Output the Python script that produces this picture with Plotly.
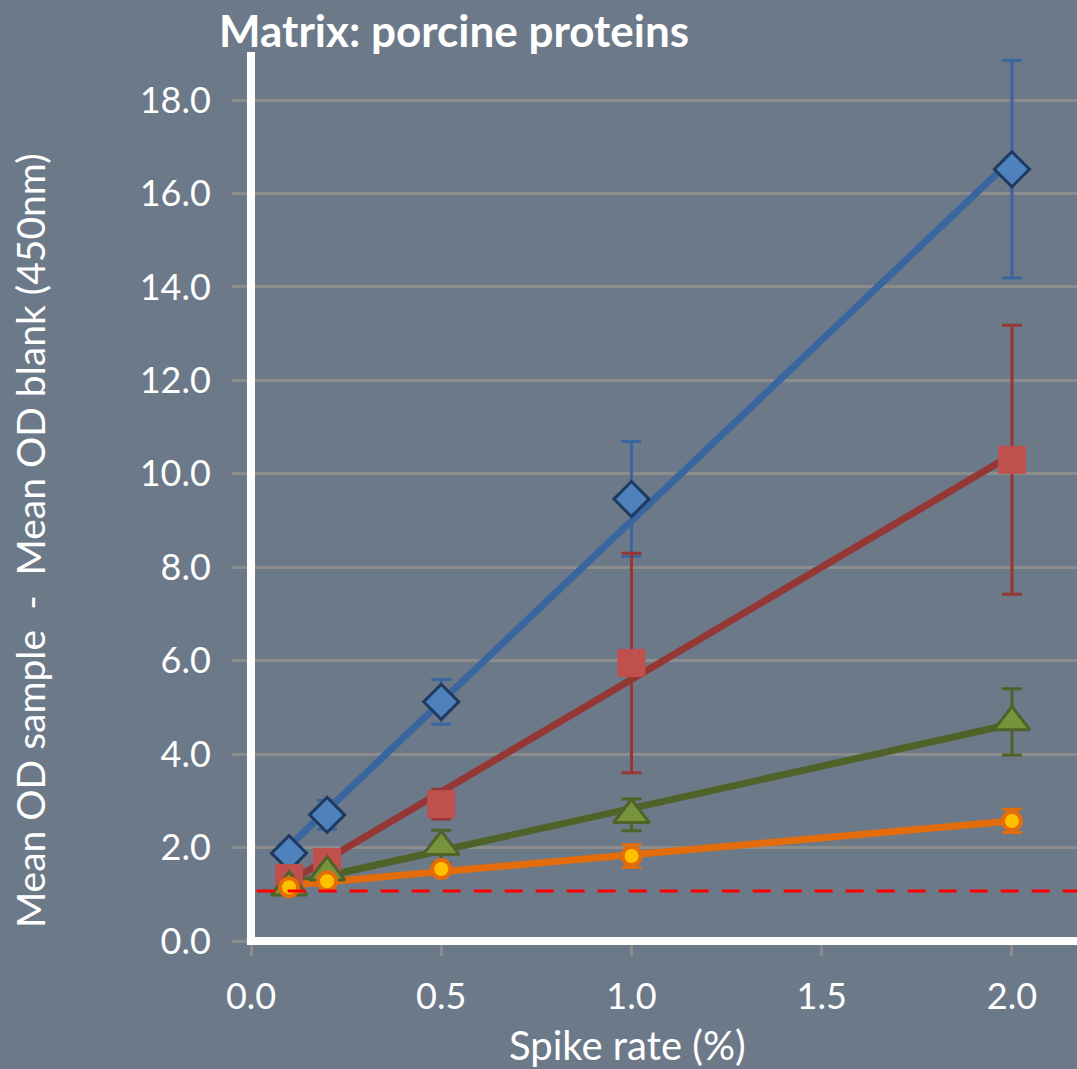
import numpy as np
import plotly.graph_objects as go

# ---- data ----
spike_rate = [0.1, 0.2, 0.5, 1.0, 2.0]

blue_mean = [1.88, 2.70, 5.12, 9.46, 16.52]
blue_err = [0.20, 0.31, 0.48, 1.23, 2.33]

red_mean = [1.35, 1.69, 2.93, 5.95, 10.30]
red_err = [0.15, 0.15, 0.32, 2.35, 2.88]

green_mean = [1.15, 1.47, 2.02, 2.70, 4.69]
green_err = [0.10, 0.10, 0.35, 0.34, 0.71]

orange_mean = [1.15, 1.28, 1.54, 1.82, 2.57]
orange_err = [0.08, 0.08, 0.10, 0.24, 0.25]

blank_cutoff = 1.07

x_ticks = [0.0, 0.5, 1.0, 1.5, 2.0]
y_ticks = [0, 2, 4, 6, 8, 10, 12, 14, 16, 18]

title_text = "Matrix: porcine proteins"
x_title = "Spike rate (%)"
y_title = "Mean OD sample\u00a0\u00a0-\u00a0\u00a0Mean OD blank (450nm)"

series = [
    dict(y=blue_mean, e=blue_err, line="#3A66A0", fill="#4F81BD", edge="#1F3A60",
         symbol="diamond", size=27, lw=3),
    dict(y=red_mean, e=red_err, line="#953735", fill="#C0504D", edge="#C0504D",
         symbol="square", size=27, lw=1),
    dict(y=green_mean, e=green_err, line="#4F6228", fill="#77933C", edge="#4F6228",
         symbol="triangle-up", size=31, lw=3),
    dict(y=orange_mean, e=orange_err, line="#E46C0A", fill="#FFC000", edge="#E46C0A",
         symbol="circle", size=18, lw=4),
]

FONT = "Lato, 'Open Sans', sans-serif"
BG = "#6C7989"
GRID = "#8C8C8C"

fig = go.Figure()

# trendlines (linear least squares, like the spreadsheet trendline)
xs = np.array(spike_rate)
for s in series:
    k, b = np.polyfit(xs, np.array(s["y"]), 1)
    xl = [xs.min(), xs.max()]
    fig.add_trace(go.Scatter(x=xl, y=[k * v + b for v in xl], mode="lines",
                             line=dict(color=s["line"], width=7),
                             showlegend=False, hoverinfo="skip"))

# markers with error bars
for s in series:
    fig.add_trace(go.Scatter(
        x=spike_rate, y=s["y"], mode="markers",
        marker=dict(symbol=s["symbol"], size=s["size"], color=s["fill"],
                    line=dict(color=s["edge"], width=s["lw"])),
        error_y=dict(type="data", array=s["e"], visible=True,
                     color=s["line"], thickness=3, width=10),
        showlegend=False))

# blank cut-off
fig.add_shape(type="line", xref="x", yref="y", x0=0.015, x1=2.171,
              y0=blank_cutoff, y1=blank_cutoff, layer="above",
              line=dict(color="#FF0000", width=3, dash="18px,13px"))

# white axis lines centred on the plot edges
fig.add_shape(type="line", xref="paper", yref="paper", x0=0, x1=0, y0=0, y1=1,
              layer="above", line=dict(color="white", width=8))
fig.add_shape(type="line", xref="paper", yref="paper", x0=-0.005, x1=1, y0=0, y1=0,
              layer="above", line=dict(color="white", width=8))

fig.update_layout(
    width=1077, height=1069,
    paper_bgcolor=BG, plot_bgcolor=BG,
    margin=dict(l=251, r=0, t=52, b=128),
    font=dict(family=FONT, color="white"),
    showlegend=False,
    xaxis=dict(range=[0, 2.171], tickvals=x_ticks, tickformat=".1f",
               showgrid=False, zeroline=False, showline=False,
               ticks="outside", ticklen=14, tickwidth=3, tickcolor=GRID,
               tickfont=dict(size=36, family=FONT, color="white"),
               ticklabelstandoff=10),
    yaxis=dict(range=[0, 19.03], tickvals=y_ticks, tickformat=".1f",
               showgrid=True, gridcolor=GRID, gridwidth=3, zeroline=False,
               showline=False,
               ticks="outside", ticklen=18, tickwidth=3, tickcolor=GRID,
               tickfont=dict(size=36, family=FONT, color="white"),
               ticklabelstandoff=14),
    annotations=[
        dict(text="<b>" + title_text + "</b>", xref="paper", yref="paper",
             x=-0.041, y=1.0247, xanchor="left", yanchor="middle",
             showarrow=False, font=dict(size=44, family=FONT, color="white")),
        dict(text=x_title, xref="paper", yref="paper",
             x=0.4564, y=-0.117, xanchor="center", yanchor="middle",
             showarrow=False, font=dict(size=40, family=FONT, color="white")),
        dict(text=y_title, xref="paper", yref="paper",
             x=-0.2676, y=0.451, xanchor="center", yanchor="middle",
             textangle=-90, showarrow=False,
             font=dict(size=39, family=FONT, color="white")),
    ],
)

fig.write_html(
    "out.html",
    config={"displayModeBar": False},
    post_script="document.body.style.margin='0';"
                "document.body.style.background='" + BG + "';",
)
